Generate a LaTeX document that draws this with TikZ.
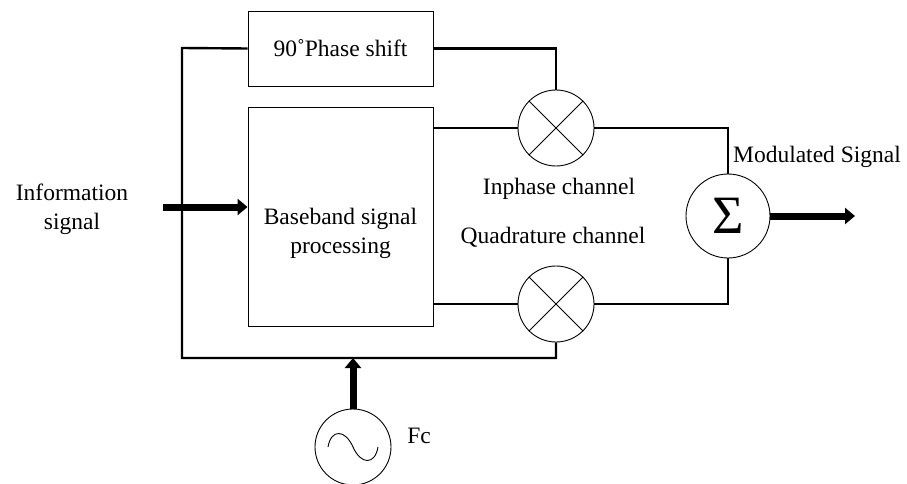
\documentclass[tikz,border=0pt]{standalone}
\usepackage{fontspec}
\setmainfont{Liberation Serif}
\usetikzlibrary{arrows.meta,calc}
\tikzset{
    blockbox/.style={draw, line width=0.9pt, minimum width=185pt, font=\fontsize{23.5}{29}\selectfont, align=center},
    mixer/.style={draw, circle, line width=0.9pt, minimum size=76pt, inner sep=0pt},
    sumnode/.style={draw, circle, line width=0.9pt, minimum size=84pt, inner sep=0pt, font=\fontsize{54}{54}\selectfont},
    lbl/.style={font=\fontsize{23.5}{29}\selectfont, align=center, inner sep=0pt},
    wire/.style={line width=2.4pt},
    bigarrow/.style={line width=7pt, -{Triangle[length=10pt,width=16pt]}, shorten >=0pt}
}
\begin{document}
\begin{tikzpicture}[x=1pt, y=-1pt]
    \useasboundingbox (0,0) rectangle (907,484);
    % blocks
    \node [blockbox, minimum height=75pt] (shift) at (340.5,48.5) {90˚Phase shift};
    \node [blockbox, minimum height=219pt] (base) at (340.5,216.5) {};
    \node [lbl] (basetxt) at (340.5,233) {Baseband signal\\processing};
    \node [mixer] (mixI) at (556,128) {};
    \node [mixer] (mixQ) at (556,304) {};
    \node [sumnode] (sum) at (728,216) {Σ};
    \node [mixer] (osc) at (353,447) {};
    % crosses
    \foreach \m in {mixI,mixQ} {
        \draw [line width=0.9pt] (\m.45) -- (\m.225);
        \draw [line width=0.9pt] (\m.135) -- (\m.315);
    }
    \draw [line width=0.9pt] ($(osc)+(-25,0)$) .. controls ($(osc)+(-22,-18)$) and ($(osc)+(-8,-18)$) .. (osc.center)
        .. controls ($(osc)+(8,18)$) and ($(osc)+(22,18)$) .. ($(osc)+(25,0)$);
    % free ends
    \coordinate (leftTop) at (182,48);
    \coordinate (leftBot) at (182,358);
    \coordinate (input) at (163,207);
    \coordinate (output) at (855,216);
    % wires
    \draw [wire] (shift.west) -- (leftTop) -- (leftBot) -| (mixQ.south);
    \draw [wire] (shift.east) -| (mixI.north);
    \draw [wire] (base.east |- mixI) -- (mixI.west);
    \draw [wire] (base.east |- mixQ) -- (mixQ.west);
    \draw [wire] (mixI.east) -| (sum.north);
    \draw [wire] (mixQ.east) -| (sum.south);
    % thick arrows
    \draw [bigarrow] (input) -- (input -| base.west);
    \draw [bigarrow] (sum.east) -- (output);
    \draw [bigarrow] (osc.north) -- (osc.north |- leftBot);
    % labels
    \node [lbl] (info) at (72,209) {Information\\signal};
    \node [lbl] (inph) at (559,189) {Inphase channel};
    \node [lbl] (quad) at (553,237) {Quadrature channel};
    \node [lbl] (modu) at (817,157) {Modulated Signal};
    \node [lbl] (fc) at (419,436) {Fc};
\end{tikzpicture}
\end{document}
